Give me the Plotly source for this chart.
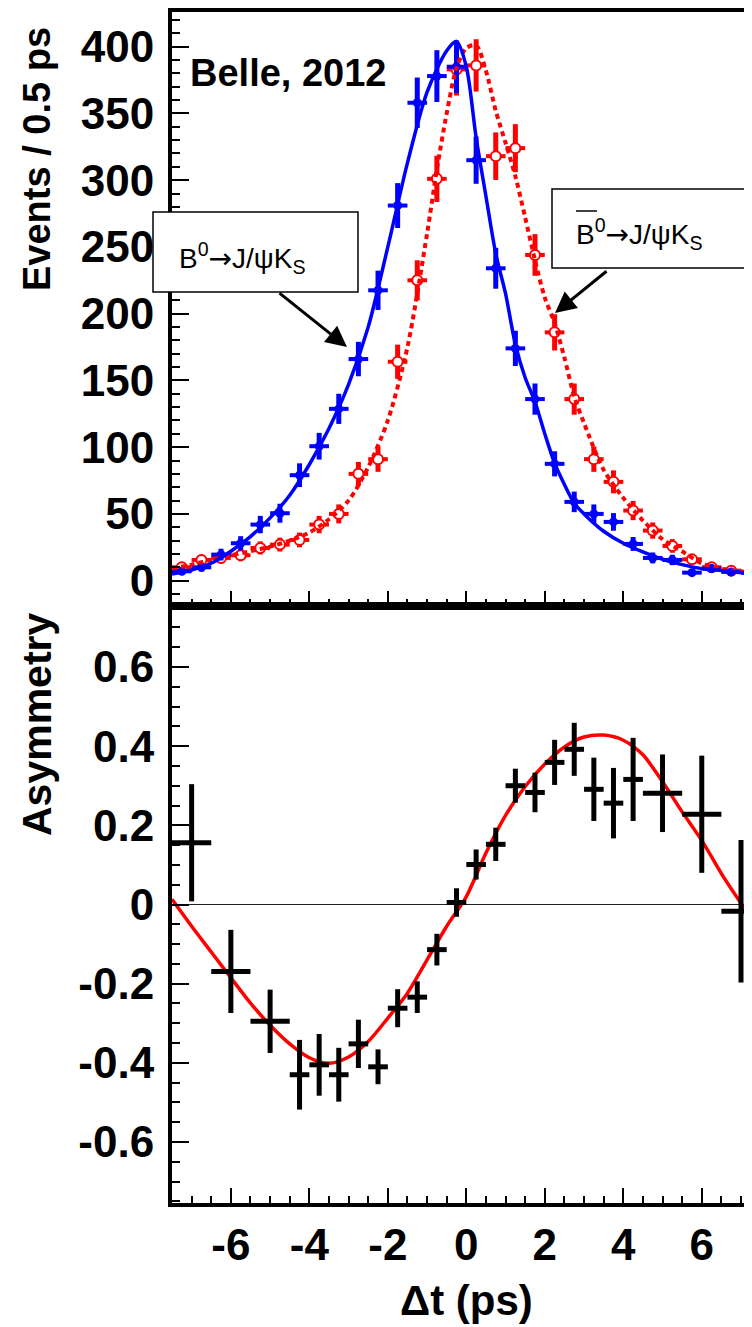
import plotly.graph_objects as go

# ---------------- data ----------------
bin_t = [-7.25, -6.75, -6.25, -5.75, -5.25, -4.75, -4.25, -3.75, -3.25, -2.75,
         -2.25, -1.75, -1.25, -0.75, -0.25, 0.25, 0.75, 1.25, 1.75, 2.25,
         2.75, 3.25, 3.75, 4.25, 4.75, 5.25, 5.75, 6.25, 6.75, 7.25]
bin_half = 0.25

b0_counts = [7, 10, 19.5, 28, 42, 50.5, 79, 100.7, 128.7, 166,
             217.5, 281, 358, 378, 385, 315, 234, 174, 136, 87.5,
             59, 50, 44, 27.5, 17, 15.5, 6, 9, 6.5, 6]
b0_err = [2.6, 3.2, 4.4, 5.3, 6.5, 7.1, 8.9, 10.0, 11.3, 12.9,
          14.7, 16.8, 18.9, 19.4, 19.6, 17.7, 15.3, 13.2, 11.7, 9.4,
          7.7, 7.1, 6.6, 5.2, 4.1, 3.9, 2.4, 3.0, 2.5, 2.4]

b0bar_counts = [10, 15.5, 17, 19, 24.5, 27, 30.5, 42, 50, 80,
                91, 164, 225, 301, 383, 386, 318, 324, 244, 186,
                136, 91, 74, 52.5, 37.5, 26, 16, 10, 7.5, 6]
b0bar_err = [3.2, 3.9, 4.1, 4.4, 4.9, 5.2, 5.5, 6.5, 7.1, 8.9,
             9.5, 12.8, 15.0, 17.3, 19.6, 19.6, 17.8, 18.0, 15.6, 13.6,
             11.7, 9.5, 8.6, 7.2, 6.1, 5.1, 4.0, 3.2, 2.7, 2.4]

fit_b0_t = [-7.5, -7.0, -6.5, -6.0, -5.5, -5.0, -4.5, -4.0, -3.5, -3.0,
            -2.5, -2.0, -1.5, -1.0, -0.5, -0.25, 0.0, 0.25, 0.5, 0.75,
            1.0, 1.25, 1.5, 1.75, 2.0, 2.25, 2.5, 2.75, 3.0, 3.5,
            4.0, 4.5, 5.0, 5.5, 6.0, 6.5, 7.0, 7.3]
fit_b0 = [5, 8, 13, 22, 33, 47, 64, 87, 114, 147,
          190, 250, 313, 366, 397, 404, 385, 332, 288, 245,
          215, 177, 152, 134, 110, 88, 72, 58, 50, 37,
          28, 21.5, 16, 12, 9, 7.5, 6, 5.5]

fit_b0bar_t = [-7.5, -7.0, -6.5, -6.0, -5.5, -5.0, -4.5, -4.0, -3.5, -3.0,
               -2.5, -2.0, -1.5, -1.0, -0.75, -0.5, -0.25, 0.0, 0.25, 0.5,
               0.75, 1.0, 1.25, 1.5, 1.75, 2.0, 2.25, 2.5, 2.75, 3.0,
               3.5, 4.0, 4.5, 5.0, 5.5, 6.0, 6.5, 7.0, 7.3]
fit_b0bar = [9, 12, 15.5, 19, 22, 25.5, 30, 36, 46, 60,
             85, 120, 175, 260, 308, 350, 384, 399, 401, 382,
             352, 328, 303, 272, 240, 212, 193, 167, 138, 118,
             83, 62, 45, 31, 22, 13, 9, 7, 6]

asym_t = [-7, -6, -5, -4.25, -3.75, -3.25, -2.75, -2.25, -1.75, -1.25,
          -0.75, -0.25, 0.25, 0.75, 1.25, 1.75, 2.25, 2.75, 3.25, 3.75,
          4.25, 5, 6, 7]
asym_terr = [0.5, 0.5, 0.5, 0.25, 0.25, 0.25, 0.25, 0.25, 0.25, 0.25,
             0.25, 0.25, 0.25, 0.25, 0.25, 0.25, 0.25, 0.25, 0.25, 0.25,
             0.25, 0.5, 0.5, 0.5]
asym = [0.156, -0.169, -0.295, -0.43, -0.405, -0.43, -0.352, -0.41, -0.262, -0.234,
        -0.114, 0.005, 0.101, 0.152, 0.300, 0.283, 0.359, 0.392, 0.291, 0.256,
        0.316, 0.281, 0.228, -0.017]
asym_err = [0.148, 0.105, 0.08, 0.088, 0.078, 0.068, 0.061, 0.044, 0.048, 0.04,
            0.04, 0.036, 0.038, 0.042, 0.043, 0.05, 0.057, 0.067, 0.08, 0.089,
            0.105, 0.098, 0.148, 0.18]

fit_asym_t = [-7.5, -7.0, -6.5, -6.0, -5.5, -5.0, -4.5, -4.0, -3.5, -3.0,
              -2.5, -2.0, -1.5, -1.0, -0.5, 0.0, 0.5, 1.0, 1.5, 2.0,
              2.5, 3.0, 3.5, 4.0, 4.5, 5.0, 5.5, 6.0, 6.5, 7.0, 7.3]
fit_asym = [0.013, -0.055, -0.12, -0.185, -0.249, -0.305, -0.352, -0.387, -0.401, -0.385,
            -0.346, -0.287, -0.224, -0.14, -0.055, 0.02, 0.13, 0.225, 0.298, 0.355,
            0.398, 0.423, 0.428, 0.415, 0.378, 0.31, 0.234, 0.162, 0.078, 0.003, -0.04]

x_ticks = [-6, -4, -2, 0, 2, 4, 6]
x_ticktext = ["-6", "-4", "-2", "0", "2", "4", "6"]
top_ticks = [0, 50, 100, 150, 200, 250, 300, 350, 400]
top_ticktext = ["0", "50", "100", "150", "200", "250", "300", "350", "400"]
asym_ticks = [-0.6, -0.4, -0.2, 0, 0.2, 0.4, 0.6]
asym_ticktext = ["-0.6", "-0.4", "-0.2", "0", "0.2", "0.4", "0.6"]

# ---------------- layout geometry ----------------
# the page body has an 8px margin, so the figure is drawn 8px right/down
OFF = 8
W, H = 752 - OFF, 1327 - OFF
L, R, T, B = 172 - OFF, 0, 12 - OFF, 124
PW, PH = W - L - R, H - T - B
BOT = H - B  # figure y of bottom axis
SPLIT = (1203 - 606) / PH


def px(xs):
    """screen x (pixels in final picture) -> paper x"""
    return (xs - OFF - L) / PW


def py(ys):
    """screen y (pixels in final picture) -> paper y"""
    return (BOT - (ys - OFF)) / PH


FONT = "Liberation Sans, Arial, Helvetica, sans-serif"
BLUE = "#0000ff"
RED = "#ff0000"
ARROW = "<span style=\"font-family:'DejaVu Sans'\">→</span>"

fig = go.Figure()

# top panel points
fig.add_trace(go.Scatter(
    x=bin_t, y=b0bar_counts, mode="markers", xaxis="x2", yaxis="y2",
    marker=dict(symbol="circle", size=10, color="white", line=dict(color=RED, width=2)),
    error_y=dict(type="data", array=b0bar_err, color=RED, thickness=5, width=0),
    error_x=dict(type="constant", value=bin_half, color=RED, thickness=4, width=0),
    showlegend=False))
fig.add_trace(go.Scatter(
    x=bin_t, y=b0_counts, mode="markers", xaxis="x2", yaxis="y2",
    marker=dict(symbol="circle", size=9, color=BLUE),
    error_y=dict(type="data", array=b0_err, color=BLUE, thickness=5, width=0),
    error_x=dict(type="constant", value=bin_half, color=BLUE, thickness=4, width=0),
    showlegend=False))
fig.add_trace(go.Scatter(
    x=fit_b0bar_t, y=fit_b0bar, mode="lines", xaxis="x2", yaxis="y2",
    line=dict(color=RED, width=4, dash="5px,4px", shape="spline", smoothing=0.8),
    showlegend=False))
fig.add_trace(go.Scatter(
    x=fit_b0_t, y=fit_b0, mode="lines", xaxis="x2", yaxis="y2",
    line=dict(color=BLUE, width=3.5, shape="spline", smoothing=0.8),
    showlegend=False))

# bottom panel
fig.add_trace(go.Scatter(
    x=fit_asym_t, y=fit_asym, mode="lines", xaxis="x", yaxis="y",
    line=dict(color=RED, width=3.5, shape="spline", smoothing=0.8),
    showlegend=False))
fig.add_trace(go.Scatter(
    x=asym_t, y=asym, mode="markers", xaxis="x", yaxis="y",
    marker=dict(symbol="circle", size=5, color="black"),
    error_y=dict(type="data", array=asym_err, color="black", thickness=5, width=0),
    error_x=dict(type="data", array=asym_terr, color="black", thickness=5, width=0),
    showlegend=False))

axis_common = dict(
    showgrid=False, ticks="inside", linecolor="black", linewidth=4,
    tickcolor="black", tickwidth=1.5, showline=True,
    tickfont=dict(family=FONT, size=44, color="black", weight="bold"),
)

fig.update_layout(
    width=W, height=H,
    margin=dict(l=L, r=R, t=T, b=B),
    paper_bgcolor="white", plot_bgcolor="white",
    xaxis=dict(axis_common, domain=[0, 1], range=[-7.5, 7.28], anchor="y",
               tickmode="array", tickvals=x_ticks, ticktext=x_ticktext,
               ticklen=15, ticklabelstandoff=0, mirror=True, zeroline=False,
               minor=dict(dtick=0.5, tick0=0, ticklen=7, ticks="inside", tickcolor="black", tickwidth=1.5)),
    yaxis=dict(axis_common, domain=[0, SPLIT], range=[-0.754, 0.754], anchor="x",
               tickmode="array", tickvals=asym_ticks, ticktext=asym_ticktext,
               ticklen=17, ticklabelstandoff=5,
               zeroline=True, zerolinecolor="#222222", zerolinewidth=1.3,
               minor=dict(dtick=0.05, tick0=0, ticklen=8, ticks="inside", tickcolor="black", tickwidth=1.5)),
    xaxis2=dict(axis_common, domain=[0, 1], range=[-7.5, 7.28], anchor="y2", matches="x",
                tickmode="array", tickvals=x_ticks, ticktext=x_ticktext, showticklabels=False,
                ticklen=15, mirror=True, zeroline=False,
                minor=dict(dtick=0.5, tick0=0, ticklen=7, ticks="inside", tickcolor="black", tickwidth=1.5)),
    yaxis2=dict(axis_common, domain=[SPLIT, 1], range=[-19, 426], anchor="x2",
                tickmode="array", tickvals=top_ticks, ticktext=top_ticktext,
                ticklen=17, ticklabelstandoff=5, zeroline=False,
                minor=dict(dtick=10, tick0=0, ticklen=8, ticks="inside", tickcolor="black", tickwidth=1.5)),
)

shapes = []
shapes.append(dict(type="rect", xref="paper", yref="paper",
                   x0=px(153), x1=px(358), y0=py(292), y1=py(212),
                   line=dict(color="black", width=1.5), fillcolor="white", layer="above"))
shapes.append(dict(type="rect", xref="paper", yref="paper",
                   x0=px(552), x1=px(790), y0=py(268), y1=py(189),
                   line=dict(color="black", width=1.5), fillcolor="white", layer="above"))
# overline of B-bar
shapes.append(dict(type="line", xref="paper", yref="paper",
                   x0=px(576), x1=px(597), y0=py(211), y1=py(211),
                   line=dict(color="black", width=1.5), layer="above"))
fig.update_layout(shapes=shapes)

ann = []
ann.append(dict(text="<b>Belle, 2012</b>", x=px(188), y=py(73), xref="paper", yref="paper",
                xanchor="left", yanchor="middle", showarrow=False,
                font=dict(family=FONT, size=38, color="black")))
ann.append(dict(text="<b>Events / 0.5 ps</b>", x=px(37), y=py(25), xref="paper", yref="paper",
                xanchor="center", yanchor="top", textangle=-90, showarrow=False,
                font=dict(family=FONT, size=38, color="black")))
ann.append(dict(text="<b>Asymmetry</b>", x=px(37), y=py(610), xref="paper", yref="paper",
                xanchor="center", yanchor="top", textangle=-90, showarrow=False,
                font=dict(family=FONT, size=41, color="black")))
ann.append(dict(text="<b>Δt (ps)</b>", x=px(466), y=py(1300), xref="paper", yref="paper",
                xanchor="center", yanchor="middle", showarrow=False,
                font=dict(family=FONT, size=42, color="black")))
ann.append(dict(text="B<sup>0</sup>" + ARROW + "J/ψK<sub>S</sub>", x=px(177), y=py(258),
                xref="paper", yref="paper",
                xanchor="left", yanchor="middle", showarrow=False,
                font=dict(family=FONT, size=28, color="black")))
ann.append(dict(text="B<sup>0</sup>" + ARROW + "J/ψK<sub>S</sub>", x=px(574), y=py(234),
                xref="paper", yref="paper",
                xanchor="left", yanchor="middle", showarrow=False,
                font=dict(family=FONT, size=28, color="black")))
# arrows
ann.append(dict(text="", x=px(347), y=py(347), xref="paper", yref="paper",
                ax=278 - 347, ay=292 - 347, axref="pixel", ayref="pixel",
                showarrow=True, arrowhead=2, arrowsize=1.4, arrowwidth=3, arrowcolor="black", standoff=0))
ann.append(dict(text="", x=px(555), y=py(313), xref="paper", yref="paper",
                ax=608 - 555, ay=270 - 313, axref="pixel", ayref="pixel",
                showarrow=True, arrowhead=2, arrowsize=1.4, arrowwidth=3, arrowcolor="black", standoff=0))
fig.update_layout(annotations=ann)

fig.write_html("out.html")
